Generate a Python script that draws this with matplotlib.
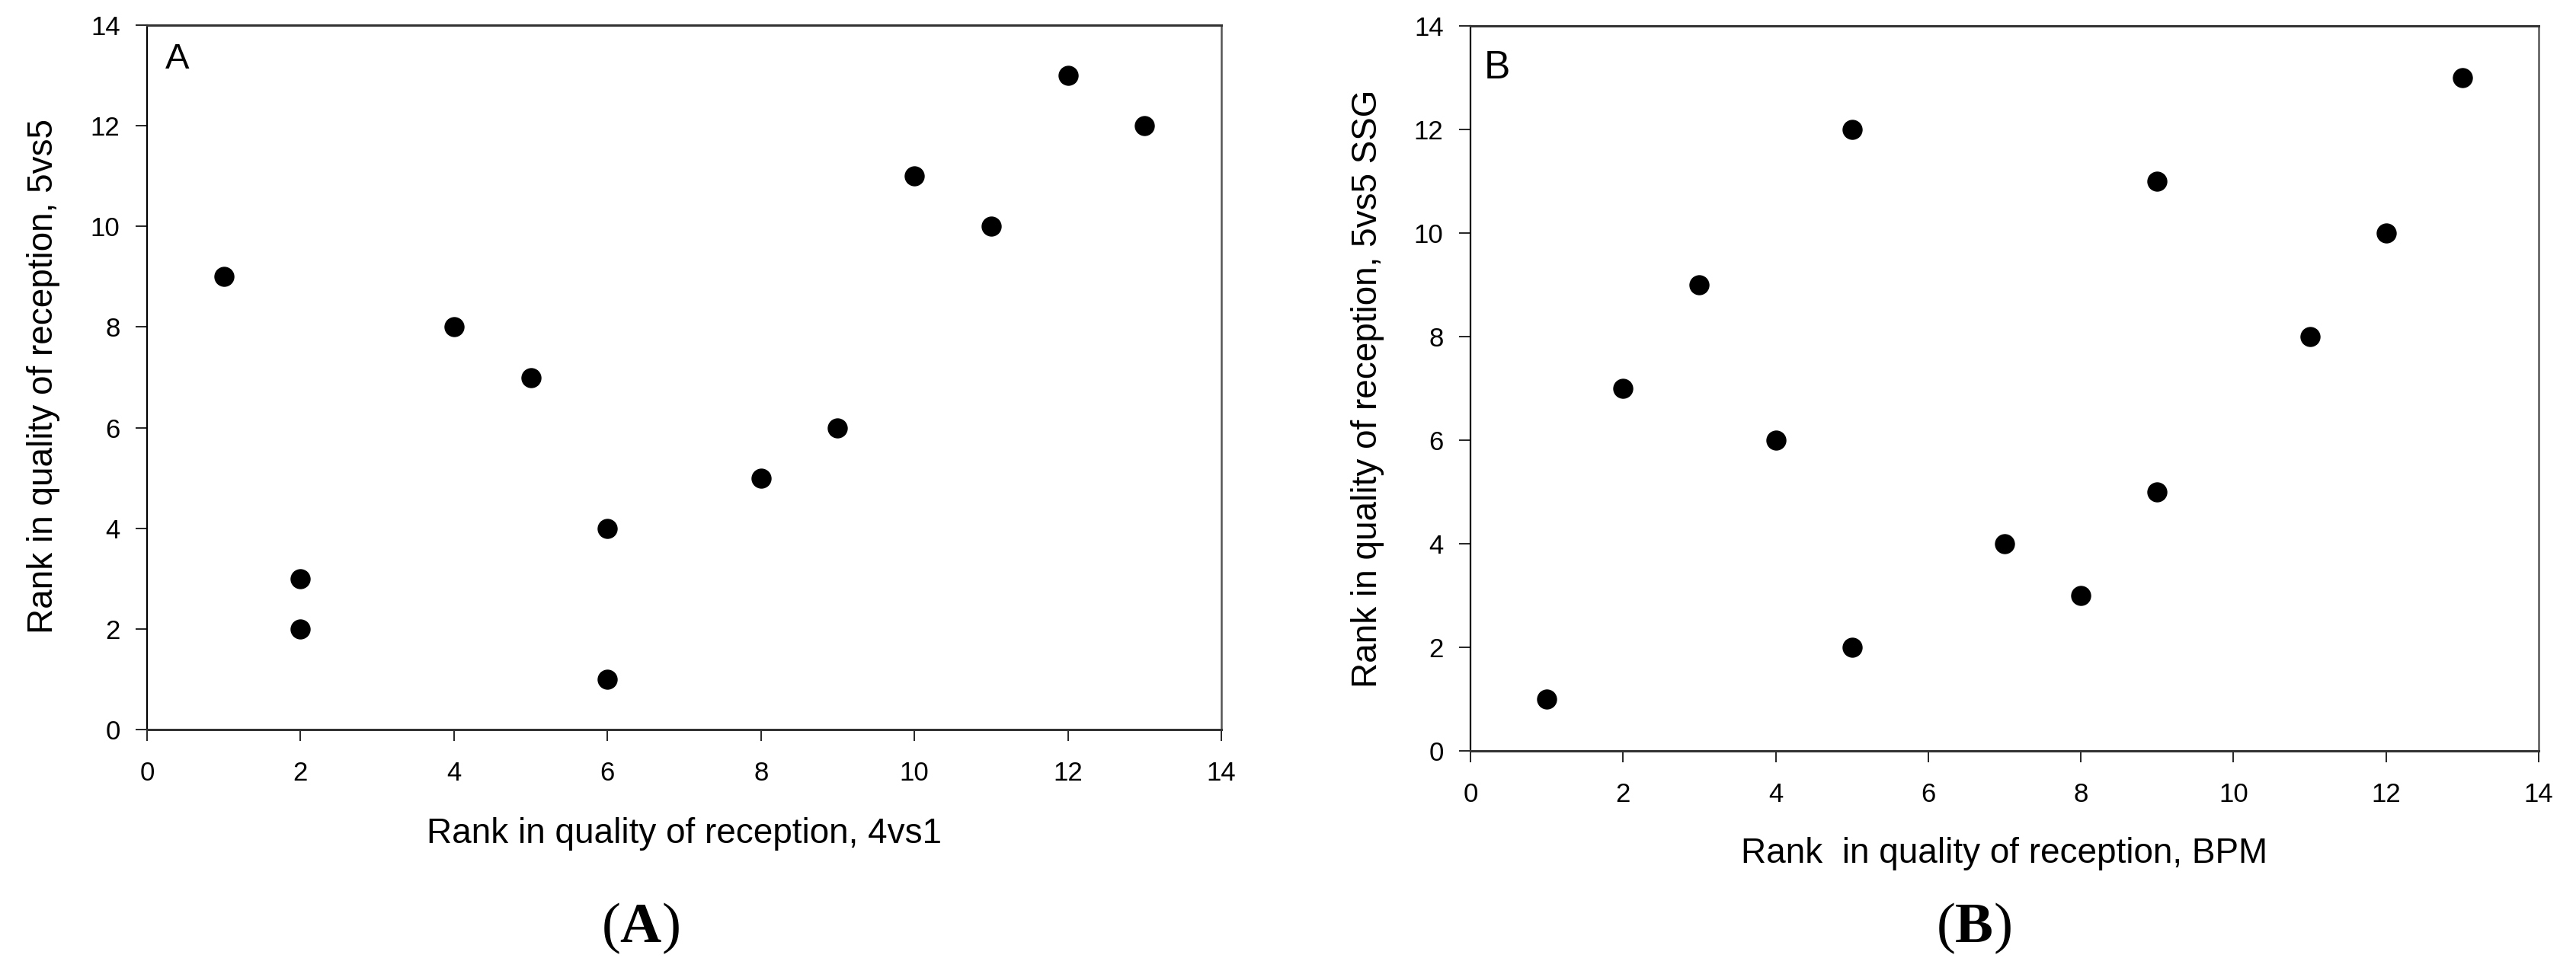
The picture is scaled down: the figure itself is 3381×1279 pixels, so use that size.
import matplotlib
matplotlib.use("Agg")
import matplotlib.pyplot as plt

# Panel A data
a_x = [1, 2, 2, 4, 5, 6, 6, 8, 9, 10, 11, 12, 13]
a_y = [9, 3, 2, 8, 7, 4, 1, 5, 6, 11, 10, 13, 12]
# Panel B data
b_x = [1, 2, 3, 4, 5, 5, 7, 8, 9, 9, 11, 12, 13]
b_y = [1, 7, 9, 6, 12, 2, 4, 3, 11, 5, 8, 10, 13]

ticks = [0, 2, 4, 6, 8, 10, 12, 14]
a_xlabel = "Rank in quality of reception, 4vs1"
a_ylabel = "Rank in quality of reception, 5vs5"
b_xlabel = "Rank  in quality of reception, BPM"
b_ylabel = "Rank in quality of reception, 5vs5 SSG"

plt.rcParams['font.family'] = ['Liberation Sans', 'DejaVu Sans']
plt.rcParams['mathtext.fontset'] = 'custom'
plt.rcParams['mathtext.rm'] = 'Liberation Serif'
plt.rcParams['mathtext.bf'] = 'Liberation Serif:bold'

W, H = 3381, 1279
fig = plt.figure(figsize=(W / 100, H / 100), dpi=100)

axA = fig.add_axes([193 / W, 1 - 958 / H, (1603 - 193) / W, (958 - 33) / H])
axB = fig.add_axes([1930 / W, 1 - 986 / H, (3332 - 1930) / W, (986 - 34) / H])

def style(ax):
    ax.set_xlim(0, 14)
    ax.set_ylim(0, 14)
    ax.set_xticks(ticks)
    ax.set_yticks(ticks)
    ax.spines['left'].set_color('black')
    ax.spines['left'].set_linewidth(1.6)
    for s in ['top', 'bottom']:
        ax.spines[s].set_color('#333333')
        ax.spines[s].set_linewidth(2.2)
    ax.spines['right'].set_color('#555555')
    ax.spines['right'].set_linewidth(1.8)
    ax.tick_params(axis='both', direction='out', length=10.5, width=1.2,
                   labelsize=25, color='black')
    ax.tick_params(axis='x', pad=19)
    ax.tick_params(axis='y', pad=15)
    ax.tick_params(top=False, right=False)

style(axA)
style(axB)

axA.plot(a_x, a_y, 'o', color='black', ms=18, clip_on=False)
axB.plot(b_x, b_y, 'o', color='black', ms=18, clip_on=False)

axA.text(0.017, 0.975, "A", transform=axA.transAxes, fontsize=34, va='top', ha='left')
axB.text(0.013, 0.967, "B", transform=axB.transAxes, fontsize=37, va='top', ha='left')

# axis labels
axA.set_xlabel(a_xlabel, fontsize=33)
axA.xaxis.set_label_coords(0.5, (958 - 1095) / 925)
axA.xaxis.label.set_verticalalignment('center')
axB.set_xlabel(b_xlabel, fontsize=33)
axB.xaxis.set_label_coords(0.5, (986 - 1121) / 952)
axB.xaxis.label.set_verticalalignment('center')

axA.set_ylabel(a_ylabel, fontsize=33)
axA.yaxis.set_label_coords((57 - 193) / 1410, (958 - 494) / 925)
axA.yaxis.label.set_verticalalignment('center')
axB.set_ylabel(b_ylabel, fontsize=33)
axB.yaxis.set_label_coords((1795 - 1930) / 1402, (986 - 510) / 952)
axB.yaxis.label.set_verticalalignment('center')

fig.text(840 / W, 1 - 1219 / H, r"($\mathbf{A}$)", fontsize=54, family='Liberation Serif',
         ha='center', va='center')
fig.text(2590 / W, 1 - 1219 / H, r"($\mathbf{B}$)", fontsize=54, family='Liberation Serif',
         ha='center', va='center')

fig.savefig("out.png", dpi=100, facecolor='white')
